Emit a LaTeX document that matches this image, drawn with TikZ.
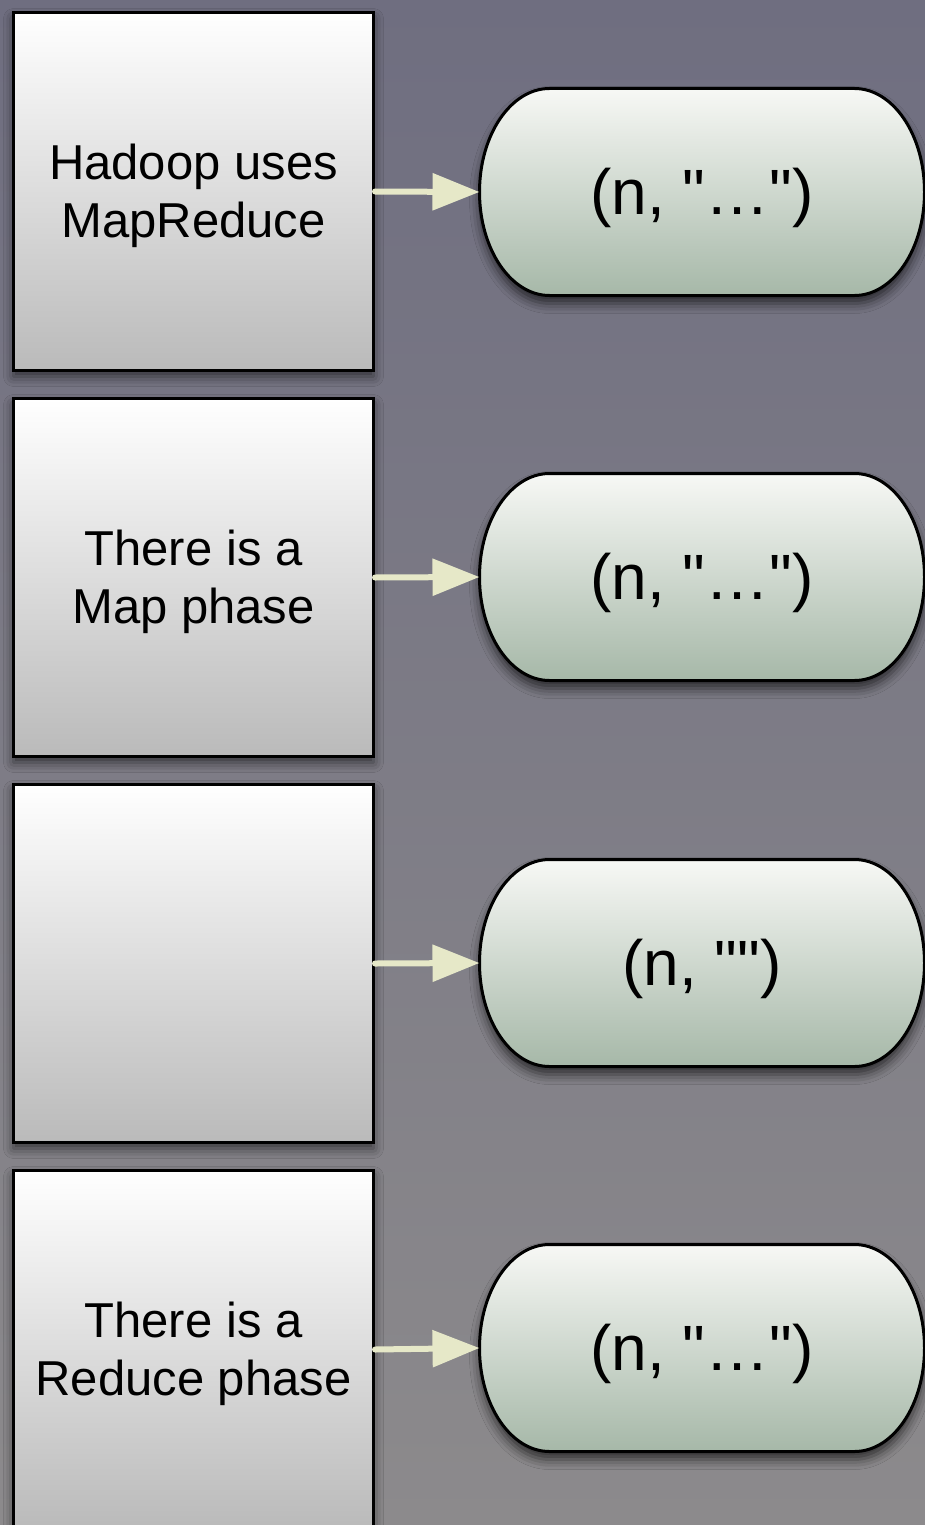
\documentclass[tikz,border=0pt]{standalone}
\usepackage{fontspec}
\setmainfont{Liberation Sans}[Ligatures=TeXOff]
\usetikzlibrary{arrows.meta,shadows.blur}
\definecolor{bgtop}{RGB}{111,110,128}
\definecolor{bgbot}{RGB}{140,138,140}
\definecolor{boxbot}{RGB}{186,186,186}
\definecolor{pilltop}{RGB}{247,248,245}
\definecolor{pillbot}{RGB}{166,184,168}
\definecolor{arrowc}{RGB}{230,232,200}
\newcommand\cardlines[2]{\raisebox{-5.5pt}[\height][\depth]{\begin{tabular}{@{}c@{}}#1\\#2\end{tabular}}}
\newcommand\pilllabel[1]{\raisebox{-6pt}[\height][\depth]{#1}}
\begin{document}
\begin{tikzpicture}[x=1pt,y=-1pt,
  card/.style={draw=black, line width=3pt, rectangle, minimum width=360pt, minimum height=358pt,
    top color=white, bottom color=boxbot, inner sep=0pt,
    font=\fontsize{49}{58}\selectfont,
    blur shadow={shadow xshift=0pt, shadow yshift=-6pt, shadow blur radius=10pt, shadow opacity=60}},
  pillshape/.style={draw=black, line width=3pt, top color=pilltop, bottom color=pillbot,
    blur shadow={shadow xshift=0pt, shadow yshift=-8pt, shadow blur radius=10pt, shadow opacity=65}},
  pilltext/.style={rectangle, minimum width=445pt, minimum height=207pt, inner sep=0pt, outer sep=0pt,
    font=\fontsize{64}{72}\selectfont},
  conn/.style={draw=arrowc, line width=6pt, line cap=round, -{Triangle[length=47pt,width=36pt]}}
]
\useasboundingbox (0,0) rectangle (925,1525);
\fill[top color=bgtop, bottom color=bgbot] (0,0) rectangle (925,1525);

% pill shapes
\foreach \i/\y in {1/192,2/577,3/963,4/1348}{
  \coordinate (c\i) at (702,\y);
  \begin{scope}[shift={(c\i)}]
    \path[pillshape] (-152.5,-103.5) -- (152.5,-103.5)
      arc[start angle=-90, end angle=90, x radius=70, y radius=103.5]
      -- (-152.5,103.5)
      arc[start angle=90, end angle=270, x radius=70, y radius=103.5] -- cycle;
  \end{scope}
}

% left cards
\node[card] (b1) at (193.5,191.5) {\cardlines{Hadoop uses}{MapReduce}};
\node[card] (b2) at (193.5,577.5) {\cardlines{There is a}{Map phase}};
\node[card] (b3) at (193.5,963.5) {};
\node[card] (b4) at (193.5,1349.5) {\cardlines{There is a}{Reduce phase}};

% pill texts
\node[pilltext] (p1) at (c1) {\pilllabel{(n, "…")}};
\node[pilltext] (p2) at (c2) {\pilllabel{(n, "…")}};
\node[pilltext] (p3) at (c3) {\pilllabel{(n, "")}};
\node[pilltext] (p4) at (c4) {\pilllabel{(n, "…")}};

% connectors
\draw[conn] (b1.east) -- (p1.west);
\draw[conn] (b2.east) -- (p2.west);
\draw[conn] (b3.east) -- (p3.west);
\draw[conn] (b4.east) -- (p4.west);
\end{tikzpicture}
\end{document}
